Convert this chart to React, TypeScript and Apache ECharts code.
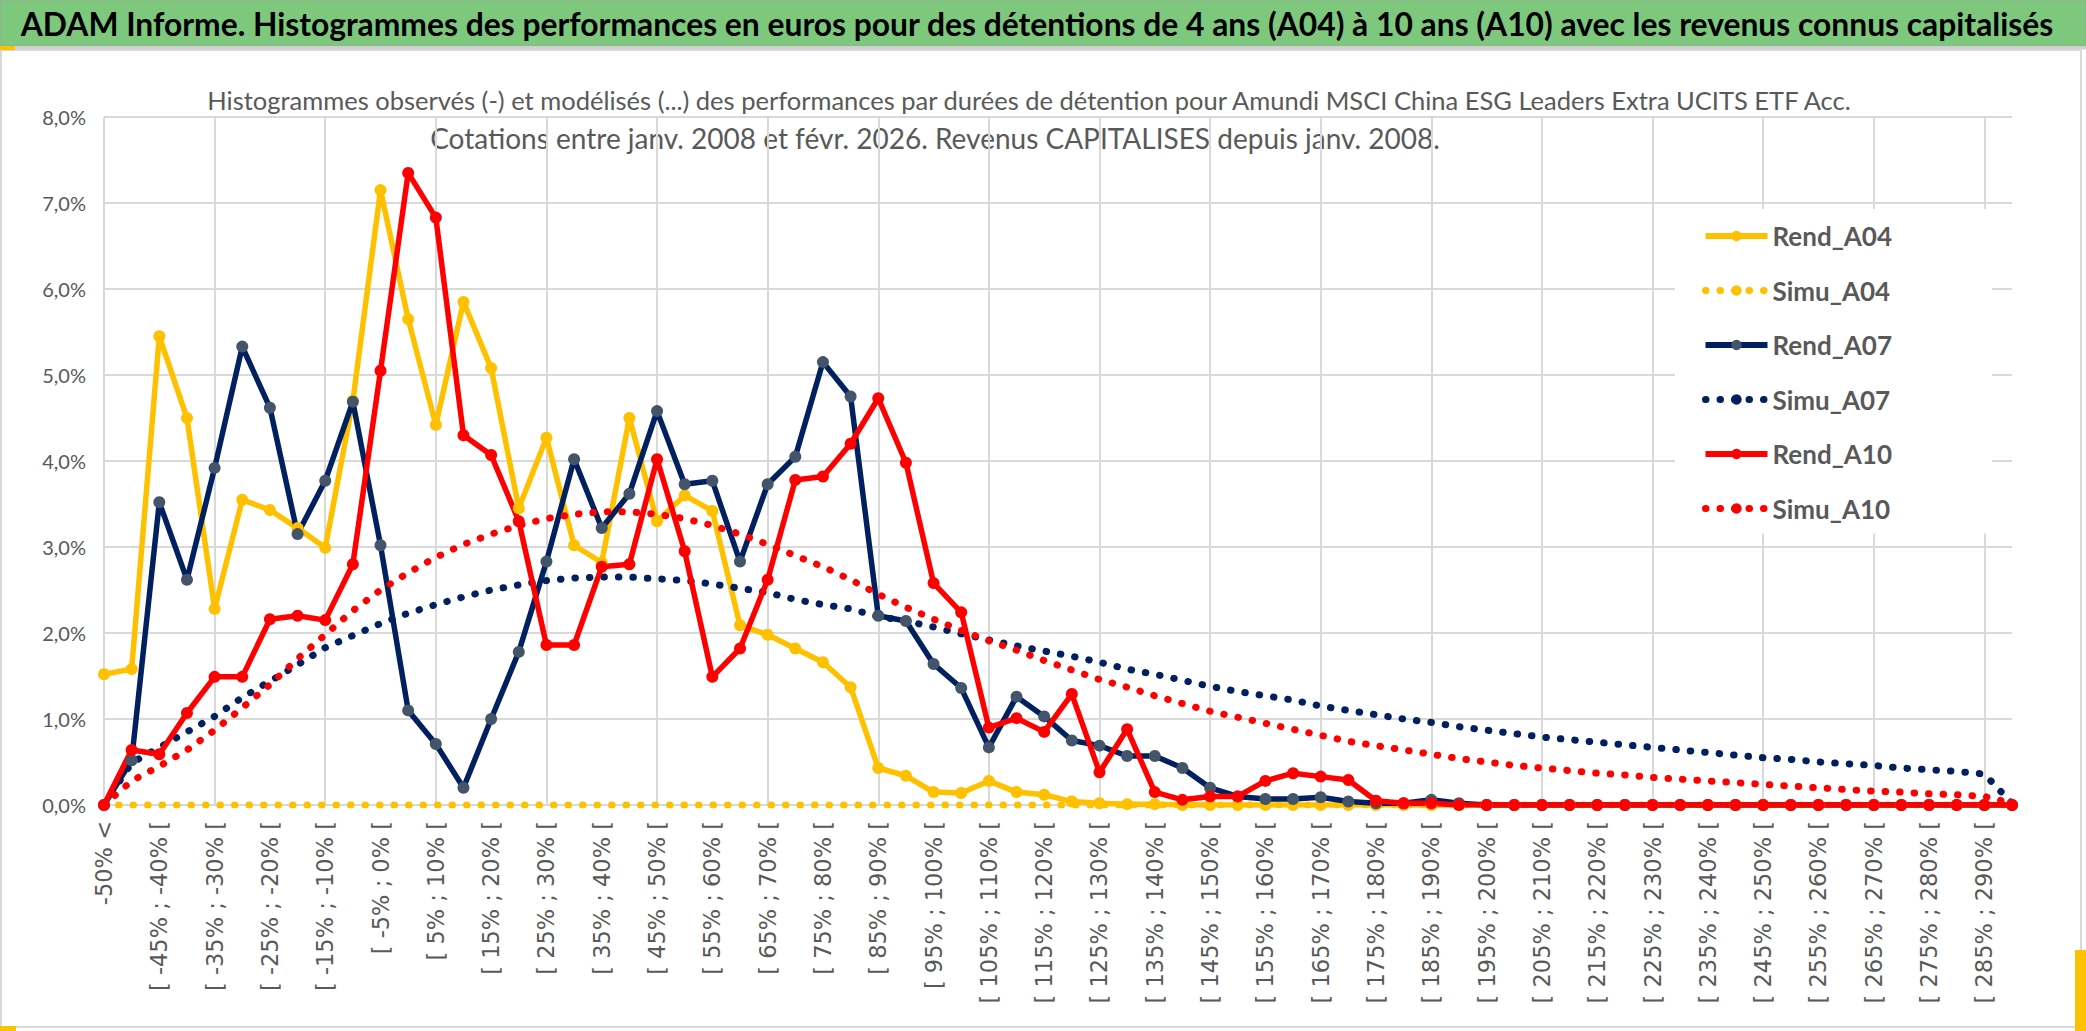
import React, { useEffect, useRef } from "react";
import * as echarts from "echarts";

const categories = [
  "-50% <", "[ -50% ; -45% [", "[ -45% ; -40% [", "[ -40% ; -35% [", "[ -35% ; -30% [",
  "[ -30% ; -25% [", "[ -25% ; -20% [", "[ -20% ; -15% [", "[ -15% ; -10% [", "[ -10% ; -5% [",
  "[ -5% ; 0% [", "[ 0% ; 5% [", "[ 5% ; 10% [", "[ 10% ; 15% [", "[ 15% ; 20% [",
  "[ 20% ; 25% [", "[ 25% ; 30% [", "[ 30% ; 35% [", "[ 35% ; 40% [", "[ 40% ; 45% [",
  "[ 45% ; 50% [", "[ 50% ; 55% [", "[ 55% ; 60% [", "[ 60% ; 65% [", "[ 65% ; 70% [",
  "[ 70% ; 75% [", "[ 75% ; 80% [", "[ 80% ; 85% [", "[ 85% ; 90% [", "[ 90% ; 95% [",
  "[ 95% ; 100% [", "[ 100% ; 105% [", "[ 105% ; 110% [", "[ 110% ; 115% [", "[ 115% ; 120% [",
  "[ 120% ; 125% [", "[ 125% ; 130% [", "[ 130% ; 135% [", "[ 135% ; 140% [", "[ 140% ; 145% [",
  "[ 145% ; 150% [", "[ 150% ; 155% [", "[ 155% ; 160% [", "[ 160% ; 165% [", "[ 165% ; 170% [",
  "[ 170% ; 175% [", "[ 175% ; 180% [", "[ 180% ; 185% [", "[ 185% ; 190% [", "[ 190% ; 195% [",
  "[ 195% ; 200% [", "[ 200% ; 205% [", "[ 205% ; 210% [", "[ 210% ; 215% [", "[ 215% ; 220% [",
  "[ 220% ; 225% [", "[ 225% ; 230% [", "[ 230% ; 235% [", "[ 235% ; 240% [", "[ 240% ; 245% [",
  "[ 245% ; 250% [", "[ 250% ; 255% [", "[ 255% ; 260% [", "[ 260% ; 265% [", "[ 265% ; 270% [",
  "[ 270% ; 275% [", "[ 275% ; 280% [", "[ 280% ; 285% [", "[ 285% ; 290% [", "[ 290% ; 295% [",
];

// values in percent
const rendA04 = [
  1.52, 1.58, 5.45, 4.5, 2.28, 3.55, 3.43, 3.22, 2.99, 4.7,
  7.15, 5.65, 4.42, 5.85, 5.08, 3.45, 4.27, 3.02, 2.82, 4.5,
  3.3, 3.6, 3.42, 2.09, 1.98, 1.82, 1.66, 1.37, 0.43, 0.34,
  0.15, 0.14, 0.28, 0.15, 0.12, 0.04, 0.02, 0.01, 0.01, 0,
  0, 0, 0, 0, 0, 0, 0, 0, 0, 0,
  0, 0, 0, 0, 0, 0, 0, 0, 0, 0,
  0, 0, 0, 0, 0, 0, 0, 0, 0, 0,
];
const simuA04 = [
  0, 0, 0, 0, 0, 0, 0, 0, 0, 0,
  0, 0, 0, 0, 0, 0, 0, 0, 0, 0,
  0, 0, 0, 0, 0, 0, 0, 0, 0, 0,
  0, 0, 0, 0, 0, 0, 0, 0, 0, 0,
  0, 0, 0, 0, 0, 0, 0, 0, 0, 0,
  0, 0, 0, 0, 0, 0, 0, 0, 0, 0,
  0, 0, 0, 0, 0, 0, 0, 0, 0, 0,
];
const rendA07 = [
  0, 0.52, 3.52, 2.62, 3.92, 5.33, 4.62, 3.15, 3.77, 4.69,
  3.02, 1.1, 0.71, 0.2, 1.0, 1.78, 2.83, 4.02, 3.22, 3.62,
  4.58, 3.73, 3.77, 2.83, 3.73, 4.05, 5.15, 4.75, 2.2, 2.14,
  1.64, 1.36, 0.67, 1.26, 1.03, 0.75, 0.69, 0.57, 0.57, 0.43,
  0.2, 0.1, 0.07, 0.07, 0.09, 0.04, 0.02, 0.02, 0.06, 0.02,
  0, 0, 0, 0, 0, 0, 0, 0, 0, 0,
  0, 0, 0, 0, 0, 0, 0, 0, 0, 0,
];
const simuA07 = [
  0, 0.49, 0.67, 0.85, 1.03, 1.25, 1.44, 1.63, 1.83, 1.97,
  2.11, 2.23, 2.33, 2.42, 2.5, 2.56, 2.61, 2.64, 2.65, 2.65,
  2.63, 2.61, 2.57, 2.52, 2.47, 2.39, 2.33, 2.28, 2.19, 2.14,
  2.07, 1.99, 1.92, 1.85, 1.79, 1.73, 1.66, 1.58, 1.52, 1.45,
  1.38, 1.32, 1.27, 1.22, 1.15, 1.1, 1.05, 1.0, 0.96, 0.91,
  0.87, 0.83, 0.79, 0.76, 0.73, 0.7, 0.67, 0.64, 0.61, 0.58,
  0.55, 0.53, 0.5, 0.48, 0.46, 0.43, 0.41, 0.39, 0.36, 0.02,
];
const rendA10 = [
  0, 0.64, 0.59, 1.07, 1.49, 1.49, 2.16, 2.2, 2.15, 2.8,
  5.05, 7.35, 6.83, 4.3, 4.07, 3.3, 1.86, 1.86, 2.77, 2.8,
  4.02, 2.95, 1.49, 1.82, 2.62, 3.78, 3.82, 4.2, 4.73, 3.98,
  2.58, 2.24, 0.9, 1.01, 0.85, 1.29, 0.38, 0.88, 0.15, 0.06,
  0.1, 0.1, 0.28, 0.37, 0.33, 0.29, 0.05, 0.02, 0.02, 0,
  0, 0, 0, 0, 0, 0, 0, 0, 0, 0,
  0, 0, 0, 0, 0, 0, 0, 0, 0, 0,
];
const simuA10 = [
  0, 0.28, 0.45, 0.64, 0.87, 1.13, 1.4, 1.7, 1.98, 2.26,
  2.5, 2.7, 2.88, 3.03, 3.15, 3.25, 3.33, 3.38, 3.41, 3.41,
  3.38, 3.33, 3.25, 3.15, 3.03, 2.9, 2.77, 2.62, 2.45, 2.3,
  2.16, 2.03, 1.91, 1.8, 1.68, 1.57, 1.46, 1.37, 1.27, 1.18,
  1.09, 1.02, 0.95, 0.88, 0.81, 0.74, 0.69, 0.64, 0.59, 0.54,
  0.5, 0.46, 0.43, 0.4, 0.37, 0.35, 0.32, 0.3, 0.28, 0.26,
  0.24, 0.22, 0.2, 0.18, 0.16, 0.15, 0.13, 0.12, 0.1, 0.02,
];

const legendNames = ["Rend_A04", "Simu_A04", "Rend_A07", "Simu_A07", "Rend_A10", "Simu_A10"];

const TITLE =
  "ADAM Informe. Histogrammes des performances en euros pour des détentions de 4 ans (A04) à 10 ans (A10) avec les revenus connus capitalisés";
const SUB1 =
  "Histogrammes observés (-) et modélisés (...) des performances par durées de détention pour Amundi MSCI China ESG Leaders Extra UCITS ETF Acc.";
const SUB2 =
  "Cotations entre janv. 2008 et févr. 2026. Revenus CAPITALISES depuis janv. 2008.";

const YELLOW = "#FFC000";
const NAVY = "#002060";
const NAVY_MARK = "#44546A";
const RED = "#FF0000";
const GRID = "#d9d9d9";
const TEXT = "#595959";

export default function App() {
  const ref = useRef<HTMLDivElement>(null);

  useEffect(() => {
    const chart = echarts.init(ref.current as HTMLDivElement, null, { renderer: "svg" });
    const dots = [0.5, 14];
    const rend = (name: string, data: number[], line: string, mark: string) => ({
      name,
      type: "line",
      data,
      symbol: "circle",
      symbolSize: 12,
      showAllSymbol: true,
      silent: true,
      lineStyle: { color: line, width: 5.5, join: "round" },
      itemStyle: { color: mark, borderWidth: 0 },
      emphasis: { disabled: true },
    });
    const simu = (name: string, data: number[], color: string) => ({
      name,
      type: "line",
      data,
      symbol: "none",
      silent: true,
      lineStyle: { color, width: 7, type: dots, cap: "round", join: "round" },
      itemStyle: { color },
      emphasis: { disabled: true },
    });

    const legendData = legendNames.map((n) =>
      n.startsWith("Rend")
        ? { name: n, lineStyle: { width: 6 } }
        : { name: n, lineStyle: { width: 7, type: dots, cap: "round" } }
    );

    chart.setOption({
      animation: false,
      backgroundColor: "#ffffff",
      grid: { left: 104, right: 74, top: 117, bottom: 226, containLabel: false },
      xAxis: {
        type: "category",
        data: categories,
        boundaryGap: false,
        axisLine: { show: true, lineStyle: { color: GRID, width: 2 } },
        axisTick: { show: false },
        axisLabel: {
          interval: 1,
          rotate: 90,
          color: TEXT,
          fontFamily: "DejaVu Sans",
          fontSize: 22.5,
          margin: 16,
        },
        splitLine: { show: true, interval: 3, lineStyle: { color: GRID, width: 2 } },
      },
      yAxis: {
        type: "value",
        min: 0,
        max: 8,
        interval: 1,
        axisLine: { show: false },
        axisTick: { show: false },
        axisLabel: {
          formatter: (v: number) => v.toFixed(1).replace(".", ",") + "%",
          color: TEXT,
          fontFamily: "Lato",
          fontSize: 20,
          margin: 18,
        },
        splitLine: { lineStyle: { color: GRID, width: 2 } },
      },
      legend: {
        orient: "vertical",
        left: 1675,
        top: 209,
        padding: [12, 100, 10, 27],
        backgroundColor: "#ffffff",
        itemWidth: 62,
        itemHeight: 13,
        itemGap: 24.5,
        selectedMode: false,
        textStyle: {
          fontFamily: "Lato",
          fontWeight: "bold",
          fontSize: 26,
          color: TEXT,
          lineHeight: 30,
        },
        data: legendData,
      },
      graphic: [
        {
          type: "rect",
          shape: { x: 1, y: 50, width: 2080, height: 977 },
          style: { fill: "none", stroke: GRID, lineWidth: 2 },
          silent: true,
        },
        {
          type: "rect",
          shape: { x: 0, y: 0, width: 2086, height: 46 },
          style: { fill: "#7DC87D", stroke: "#9aa59a", lineWidth: 1 },
          silent: true,
        },
        {
          type: "line",
          shape: { x1: 0, y1: 48, x2: 2086, y2: 48 },
          style: { stroke: "#d0d0d0", lineWidth: 3 },
          silent: true,
        },
        { type: "rect", shape: { x: 0, y: 46, width: 15, height: 4 }, style: { fill: YELLOW }, silent: true },
        { type: "rect", shape: { x: 0, y: 1026, width: 16, height: 5 }, style: { fill: YELLOW }, silent: true },
        { type: "rect", shape: { x: 2075, y: 950, width: 11, height: 81 }, style: { fill: YELLOW }, silent: true },
        {
          type: "text",
          x: 1037,
          y: 24,
          silent: true,
          style: {
            text: TITLE,
            fill: "#000000",
            fontFamily: "Lato",
            fontWeight: "bold",
            fontSize: 31.8,
            align: "center",
            verticalAlign: "middle",
            textAlign: "center",
            textVerticalAlign: "middle",
          },
        },
        {
          type: "text",
          x: 1029,
          y: 100,
          silent: true,
          style: {
            text: SUB1,
            fill: TEXT,
            fontFamily: "Lato",
            fontSize: 25.5,
            align: "center",
            verticalAlign: "middle",
            textAlign: "center",
            textVerticalAlign: "middle",
          },
        },
        {
          type: "text",
          x: 935,
          y: 138,
          silent: true,
          style: {
            text: SUB2,
            fill: TEXT,
            fontFamily: "Lato",
            fontSize: 28,
            align: "center",
            verticalAlign: "middle",
            textAlign: "center",
            textVerticalAlign: "middle",
          },
        },
      ],
      series: [
        rend("Rend_A04", rendA04, YELLOW, YELLOW),
        simu("Simu_A04", simuA04, YELLOW),
        rend("Rend_A07", rendA07, NAVY, NAVY_MARK),
        simu("Simu_A07", simuA07, NAVY),
        rend("Rend_A10", rendA10, RED, RED),
        simu("Simu_A10", simuA10, RED),
      ],
    });

    return () => chart.dispose();
  }, []);

  return (
    <div
      ref={ref}
      style={{ position: "fixed", left: 0, top: 0, width: 2086, height: 1031 }}
    />
  );
}
